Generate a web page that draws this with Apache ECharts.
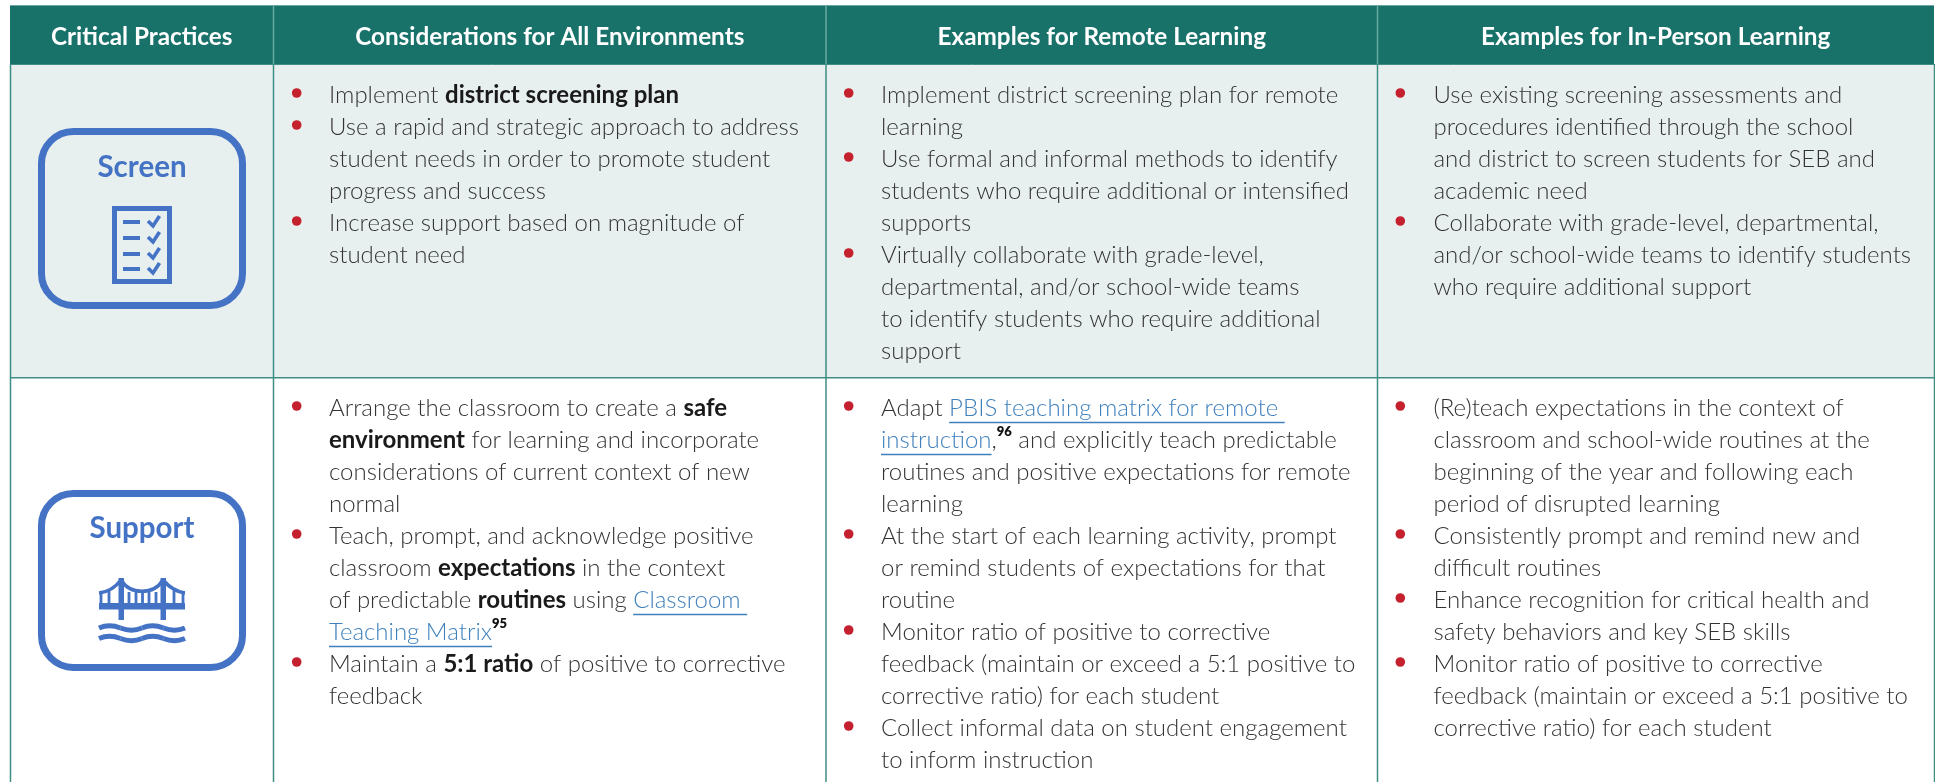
<!DOCTYPE html>
<html><head><meta charset="utf-8">
<style>html,body{margin:0;padding:0;background:#fff}#c{width:1935px;height:782px}</style>
<script src="https://cdn.jsdelivr.net/npm/echarts@6/dist/echarts.min.js"></script>
</head><body><div id="c"></div>
<script>
const headers = ["Critical Practices","Considerations for All Environments","Examples for Remote Learning","Examples for In-Person Learning"];
const practices = ["Screen","Support"];
const screenAll = [
 ["Implement **district screening plan**"],
 ["Use a rapid and strategic approach to address","student needs in order to promote student","progress and success"],
 ["Increase support based on magnitude of","student need"]];
const screenRemote = [
 ["Implement district screening plan for remote","learning"],
 ["Use formal and informal methods to identify","students who require additional or intensified","supports"],
 ["Virtually collaborate with grade-level,","departmental, and/or school-wide teams","to identify students who require additional","support"]];
const screenInPerson = [
 ["Use existing screening assessments and","procedures identified through the school","and district to screen students for SEB and","academic need"],
 ["Collaborate with grade-level, departmental,","and/or school-wide teams to identify students","who require additional support"]];
const supportAll = [
 ["Arrange the classroom to create a **safe**","**environment** for learning and incorporate","considerations of current context of new","normal"],
 ["Teach, prompt, and acknowledge positive","classroom **expectations** in the context","of predictable **routines** using [[Classroom ]]","[[Teaching Matrix]]^^95^^"],
 ["Maintain a **5:1 ratio** of positive to corrective","feedback"]];
const supportRemote = [
 ["Adapt [[PBIS teaching matrix for remote ]]","[[instruction]],^^96^^ and explicitly teach predictable","routines and positive expectations for remote","learning"],
 ["At the start of each learning activity, prompt","or remind students of expectations for that","routine"],
 ["Monitor ratio of positive to corrective","feedback (maintain or exceed a 5:1 positive to","corrective ratio) for each student"],
 ["Collect informal data on student engagement","to inform instruction"]];
const supportInPerson = [
 ["(Re)teach expectations in the context of","classroom and school-wide routines at the","beginning of the year and following each","period of disrupted learning"],
 ["Consistently prompt and remind new and","difficult routines"],
 ["Enhance recognition for critical health and","safety behaviors and key SEB skills"],
 ["Monitor ratio of positive to corrective","feedback (maintain or exceed a 5:1 positive to","corrective ratio) for each student"]];

const C = {head:'#18726a', tint:'#e8f0ef', line:'#3f8d85', headLine:'#6aa9a2', text:'#333333', bold:'#1a1a1a', link:'#3f80bd', red:'#c4202e', blue:'#4472c4'};
const FS = 24, LH = 32;
const cols = [10,273.5,826,1377.5,1934];
const textX = [329,881,1433.5], bulletX = [296.7,848.7,1400.3];
const rows = [{top:95,cells:[screenAll,screenRemote,screenInPerson]},{top:408,cells:[supportAll,supportRemote,supportInPerson]}];
const g = [];
const ctx = document.createElement('canvas').getContext('2d');
const fonts = {n:`300 ${FS}px Lato`, b:`700 ${FS}px Lato`, l:`300 ${FS}px Lato`, s:`800 13px Lato`};
function width(t,k){ctx.font=fonts[k];return ctx.measureText(t).width;}
function parse(s){
  const out=[];const re=/\*\*(.+?)\*\*|\[\[(.+?)\]\]|\^\^(.+?)\^\^|([^*\[\^]+)/g;let m;
  while((m=re.exec(s))){ if(m[1])out.push([m[1],'b']); else if(m[2])out.push([m[2],'l']); else if(m[3])out.push([m[3],'s']); else out.push([m[4],'n']); }
  return out;
}
function txt(x,y,t,font,fill,align){g.push({type:'text',x,y,silent:true,z:5,style:{text:t,font,fill,align:align||'left',verticalAlign:'middle'}});}
function rect(x,y,w,h,fill,z){g.push({type:'rect',shape:{x,y,width:w,height:h},style:{fill},silent:true,z:z||1});}
rect(10,6,1924,58,C.head);
rect(10,64,1924,314,C.tint);
function line(x1,y1,x2,y2,stroke,lw,z){g.push({type:'line',shape:{x1,y1,x2,y2},style:{stroke,lineWidth:lw},silent:true,z:z||2});}
line(10,5.5,1934,5.5,C.headLine,1);
cols.forEach((x,i)=>{const xx=i==0?10.5:i==4?1934.5:x;line(xx,64,xx,782,C.line,1.5);if(i>0&&i<4)line(xx,6,xx,64,C.headLine,1.5);});
line(10,64.5,1935,64.5,C.line,1);
line(10,377.7,1935,377.7,C.line,1.6);
headers.forEach((h,i)=>txt((cols[i]+cols[i+1])/2,37.5,h,`700 24.3px Lato`,'#fff','center'));
rows.forEach(r=>r.cells.forEach((cell,c)=>{let n=0;
  cell.forEach(item=>{
    g.push({type:'circle',shape:{cx:bulletX[c],cy:r.top+LH*n-2,r:4.8},style:{fill:C.red},silent:true,z:5});
    item.forEach(ln=>{let x=textX[c];const y=r.top+LH*n;
      parse(ln).forEach(([t,k])=>{
        const w=width(t,k);
        if(k==='s') txt(x,y-8,t,fonts.s,'#111');
        else txt(x,y,t,fonts[k],k==='b'?C.bold:k==='l'?C.link:C.text);
        if(k==='l') line(x,y+14.5,x+w,y+14.5,C.link,1.4,4);
        x+=w;
      });
      n++;
    });
  });
}));
function box(y,h){g.push({type:'rect',shape:{x:41.5,y,width:201,height:h,r:32},style:{fill:'none',stroke:C.blue,lineWidth:7},silent:true,z:3});}
box(131.5,174); box(493.5,174);
txt(142,167.5,practices[0],'700 29.5px Lato',C.blue,'center');
txt(142,528,practices[1],'700 29.5px Lato',C.blue,'center');
g.push({type:'rect',shape:{x:114.5,y:208.5,width:55,height:73},style:{fill:'none',stroke:C.blue,lineWidth:5},silent:true,z:3});
[222,238,254,269].forEach(y=>{
  line(123,y,140,y,C.blue,4,3);
  g.push({type:'polyline',shape:{points:[[148,y-1],[153,y+4],[159.5,y-6]]},style:{stroke:C.blue,lineWidth:3.6,fill:'none'},silent:true,z:3});
});
rect(99,603,86,6.5,C.blue,3);
rect(118.5,578,5.5,42,C.blue,3); rect(160.5,578,5.5,42,C.blue,3);
const bez=(x1,y1,cx1,cy1,cx2,cy2,x2,y2,lw)=>g.push({type:'bezierCurve',shape:{x1,y1,cpx1:cx1,cpy1:cy1,cpx2:cx2,cpy2:cy2,x2,y2},style:{stroke:C.blue,lineWidth:lw,fill:'none'},silent:true,z:3});
bez(99,593,108,592,115,588,121,580,3.6);
bez(121,580,130,595,154,595,163,580,3.6);
bez(163,580,170,588,177,592,185,593,3.6);
[101,109,129,136,142.5,149,156,174,183].forEach(x=>{
  const top = x<121||x>163 ? 591 : 592;
  rect(x-1.4,top,2.8,12,C.blue,3);
});
function wave(y){
  bez(99,y,106,y-3,113,y-3,120.5,y,5);
  bez(120.5,y,128,y+3,135,y+3,142,y,5);
  bez(142,y,149,y-3,156,y-3,163.5,y,5);
  bez(163.5,y,171,y+3,178,y+3,185,y,5);
}
wave(628); wave(638.5);

const chart = echarts.init(document.getElementById('c'),null,{renderer:'canvas'});
chart.setOption({animation:false,backgroundColor:'#fff',graphic:{elements:g}});
</script></body></html>
